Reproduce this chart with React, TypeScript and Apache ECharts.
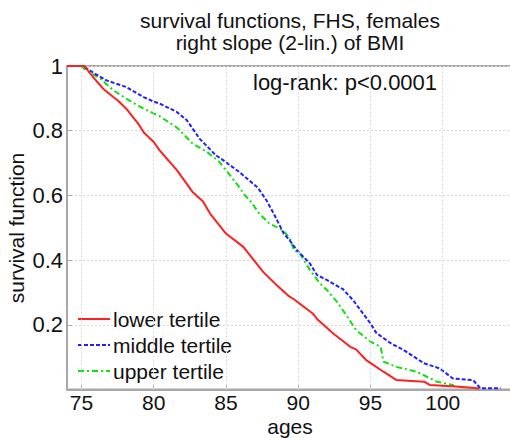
import React, { useEffect, useRef } from "react";
import * as echarts from "echarts";

const titleLines = ["survival functions, FHS, females", "right slope (2-lin.) of BMI"];
const annotation = "log-rank: p<0.0001";
const xName = "ages";
const yName = "survival function";
const seriesNames = ["lower tertile", "middle tertile", "upper tertile"];

const lowerTertile: [number, number][] = [
  [74, 1], [75.2, 1], [75.8, 0.966], [76.5, 0.93], [77.2, 0.904], [77.5, 0.894], [78.1, 0.868],
  [79.0, 0.817], [79.3, 0.795], [80.0, 0.765], [80.4, 0.74], [80.9, 0.714], [81.6, 0.678],
  [82.7, 0.61], [83.4, 0.582], [83.9, 0.544], [85.0, 0.482], [86.2, 0.441], [87.3, 0.379],
  [87.6, 0.362], [88.5, 0.323], [89.4, 0.287], [89.7, 0.279], [91.0, 0.235], [91.3, 0.218],
  [92.4, 0.174], [93.6, 0.132], [94.0, 0.124], [94.7, 0.091], [95.9, 0.055], [96.8, 0.029],
  [98.7, 0.024], [99.1, 0.014], [100.9, 0.009], [102.4, 0.004], [102.5, 0.001],
];

const middleTertile: [number, number][] = [
  [74, 1], [75.1, 1], [75.8, 0.98], [76.7, 0.956], [78.1, 0.935], [79.3, 0.904], [80.0, 0.89],
  [80.4, 0.884], [81.6, 0.858], [82.0, 0.843], [82.3, 0.832], [83.2, 0.774], [84.3, 0.724],
  [84.8, 0.709], [85.9, 0.673], [87.2, 0.624], [87.8, 0.585], [88.3, 0.544], [89.0, 0.482],
  [89.4, 0.462], [89.9, 0.431], [90.8, 0.39], [91.3, 0.354], [92.0, 0.338], [93.1, 0.31],
  [93.8, 0.276], [95.0, 0.204], [95.4, 0.175], [96.4, 0.143], [97.3, 0.122], [98.7, 0.081],
  [99.8, 0.065], [100.7, 0.034], [102.1, 0.029], [102.6, 0.004], [104.0, 0.004],
];

const upperTertile: [number, number][] = [
  [74, 1], [75.0, 1], [75.3, 0.987], [76.3, 0.961], [77.2, 0.925], [78.1, 0.899], [79.3, 0.868],
  [80.4, 0.845], [81.6, 0.81], [82.7, 0.76], [83.7, 0.734], [84.5, 0.705], [85.0, 0.678],
  [86.0, 0.621], [86.2, 0.606], [86.7, 0.582], [87.3, 0.544], [88.0, 0.513], [88.7, 0.498],
  [89.0, 0.49], [89.4, 0.468], [89.7, 0.431], [90.1, 0.421], [90.8, 0.37], [91.5, 0.328],
  [92.0, 0.307], [92.7, 0.27], [93.4, 0.225], [94.0, 0.184], [95.0, 0.148], [95.7, 0.132],
  [95.9, 0.086], [96.8, 0.07], [98.2, 0.055], [99.6, 0.024], [100.7, 0.014], [100.9, 0.004],
];

const xTickValues = [75, 80, 85, 90, 95, 100];
const yTickValues = [0.2, 0.4, 0.6, 0.8, 1];

const FONT = "Liberation Sans, Arial, sans-serif";

export default function App() {
  const ref = useRef<HTMLDivElement>(null);
  useEffect(() => {
    if (!ref.current) return;
    const chart = echarts.init(ref.current, undefined, { renderer: "svg" });
    const lineColors = ["#ff2020", "#2020ff", "#10e010"];
    const dashTypes: any[] = ["solid", [4, 2], [6, 3, 2, 3]];
    const datasets = [lowerTertile, middleTertile, upperTertile];
    const gridLineStyle = { color: "#d8d8d8", type: [2, 2], width: 1 };
    chart.setOption({
      animation: false,
      backgroundColor: "#ffffff",
      grid: {
        left: 67,
        right: -5,
        top: 66,
        bottom: 48.5,
        show: true,
        borderColor: "#a8a8a8",
        borderWidth: 2,
        containLabel: false,
        outerBoundsMode: "none",
      },
      xAxis: {
        type: "value",
        min: 74,
        max: 105,
        axisLine: { show: true, lineStyle: { color: "#a8a8a8", width: 2 } },
        axisTick: {
          show: true,
          inside: true,
          length: 5,
          customValues: xTickValues,
          lineStyle: { color: "#a8a8a8" },
        },
        splitLine: { show: false },
        axisLabel: {
          margin: 2,
          fontSize: 21,
          fontFamily: FONT,
          color: "#111",
          customValues: xTickValues,
          showMinLabel: true,
          showMaxLabel: true,
        },
      },
      yAxis: {
        type: "value",
        min: 0,
        max: 1,
        interval: 0.2,
        axisLine: { show: true, lineStyle: { color: "#a8a8a8", width: 2 } },
        axisTick: { show: true, inside: true, length: 5, lineStyle: { color: "#a8a8a8" } },
        splitLine: { show: true, lineStyle: gridLineStyle },
        axisLabel: {
          margin: 4,
          fontSize: 22,
          fontFamily: FONT,
          color: "#111",
          formatter: (v: number) => {
            const r = Math.round(v * 10) / 10;
            return yTickValues.some((t) => Math.abs(t - r) < 1e-6) ? String(r) : "";
          },
        },
      },
      legend: {
        orient: "vertical",
        left: 77,
        top: 306,
        padding: 0,
        itemGap: 0,
        itemWidth: 32,
        itemHeight: 14,
        data: seriesNames,
        itemStyle: { opacity: 0, color: "transparent", borderWidth: 0 },
        textStyle: { fontSize: 21, fontFamily: FONT, color: "#111", lineHeight: 26, padding: [0, 0, 0, -2] },
      },
      series: [
        {
          name: "x-grid",
          type: "line",
          data: [],
          symbol: "none",
          silent: true,
          z: 0,
          markLine: {
            silent: true,
            symbol: "none",
            label: { show: false },
            lineStyle: gridLineStyle,
            data: xTickValues.map((v) => ({ xAxis: v })),
          },
        },
        ...datasets.map((d, i) => ({
          name: seriesNames[i],
          type: "line",
          data: d,
          symbol: "none",
          lineStyle: { color: lineColors[i], width: 2, type: dashTypes[i] },
          itemStyle: { color: lineColors[i] },
          z: 5 - i,
        })),
      ],
      graphic: [
        {
          type: "text",
          x: 290,
          y: 20,
          style: { text: titleLines[0], fontSize: 21, fontFamily: FONT, fill: "#111", align: "center", verticalAlign: "middle" },
        },
        {
          type: "text",
          x: 290,
          y: 42,
          style: { text: titleLines[1], fontSize: 21, fontFamily: FONT, fill: "#111", align: "center", verticalAlign: "middle" },
        },
        {
          type: "text",
          x: 253,
          y: 82,
          style: { text: annotation, fontSize: 22, fontFamily: FONT, fill: "#111", align: "left", verticalAlign: "middle" },
        },
        {
          type: "text",
          x: 290,
          y: 426,
          style: { text: xName, fontSize: 21, fontFamily: FONT, fill: "#111", align: "center", verticalAlign: "middle" },
        },
        {
          type: "text",
          x: 16,
          y: 228,
          rotation: Math.PI / 2,
          style: { text: yName, fontSize: 21, fontFamily: FONT, fill: "#111", align: "center", verticalAlign: "middle" },
        },
      ],
    });
    return () => chart.dispose();
  }, []);
  return (
    <div
      ref={ref}
      style={{ position: "fixed", left: 0, top: 0, width: 510, height: 438, background: "#fff" }}
    />
  );
}
